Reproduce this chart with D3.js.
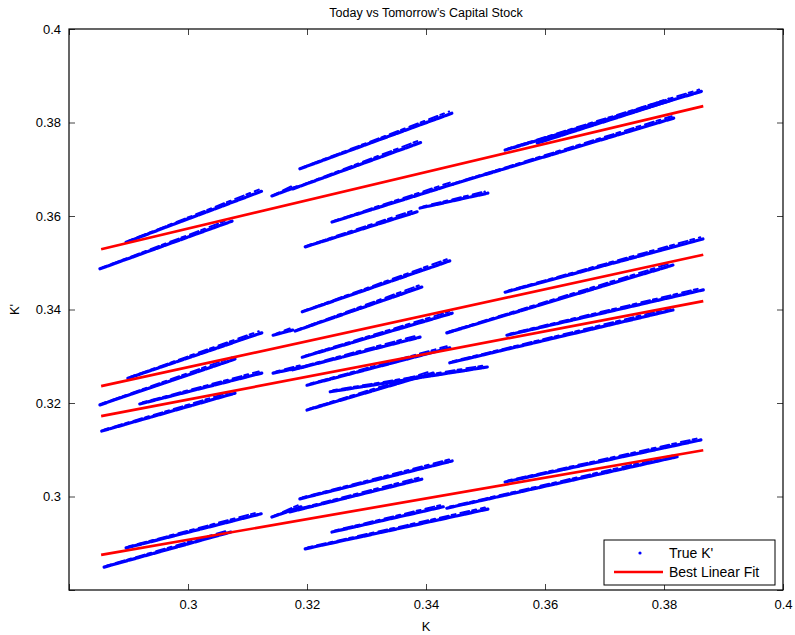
<!DOCTYPE html>
<html>
<head>
<meta charset="utf-8">
<script src="https://cdn.jsdelivr.net/npm/d3@7"></script>
<style>
  body { margin: 0; background: #fff; }
  text { font-family: "Liberation Sans", Arial, sans-serif; }
</style>
</head>
<body>
<div id="chart-container"></div>
<script>
// strands of the scatter, each one [K start, K' start, K end, K' end]
const topBand = [
  [0.2852, 0.3487, 0.3074, 0.3589],
  [0.2896, 0.3544, 0.3124, 0.3653],
  [0.3141, 0.3643, 0.3182, 0.3662],
  [0.3188, 0.3701, 0.3444, 0.3820],
  [0.3176, 0.3658, 0.3393, 0.3758],
  [0.3197, 0.3534, 0.3385, 0.3609],
  [0.3242, 0.3587, 0.3445, 0.3668],
  [0.3390, 0.3617, 0.3504, 0.3649],
  [0.3445, 0.3668, 0.3818, 0.3810],
  [0.3533, 0.3741, 0.3864, 0.3867],
  [0.3587, 0.3756, 0.3813, 0.3848]
];
const middleBand = [
  [0.2899, 0.3253, 0.3124, 0.3350],
  [0.3143, 0.3345, 0.3176, 0.3356],
  [0.2852, 0.3196, 0.3079, 0.3294],
  [0.2919, 0.3198, 0.3124, 0.3264],
  [0.3143, 0.3264, 0.3193, 0.3277],
  [0.2855, 0.3140, 0.3079, 0.3221],
  [0.3192, 0.3395, 0.3440, 0.3504],
  [0.3180, 0.3354, 0.3393, 0.3448],
  [0.3192, 0.3298, 0.3444, 0.3392],
  [0.3176, 0.3271, 0.3390, 0.3341],
  [0.3200, 0.3238, 0.3440, 0.3318],
  [0.3239, 0.3224, 0.3503, 0.3277],
  [0.3200, 0.3185, 0.3412, 0.3264],
  [0.3533, 0.3437, 0.3866, 0.3551],
  [0.3435, 0.3350, 0.3815, 0.3495],
  [0.3536, 0.3345, 0.3866, 0.3442],
  [0.3440, 0.3286, 0.3815, 0.3399]
];
const bottomBand = [
  [0.2896, 0.2890, 0.3123, 0.2963],
  [0.2859, 0.2849, 0.3072, 0.2924],
  [0.3141, 0.2956, 0.3190, 0.2978],
  [0.3188, 0.2995, 0.3444, 0.3076],
  [0.3171, 0.2967, 0.3393, 0.3037],
  [0.3242, 0.2924, 0.3429, 0.2978],
  [0.3197, 0.2888, 0.3504, 0.2973],
  [0.3533, 0.3031, 0.3862, 0.3121],
  [0.3435, 0.2975, 0.3822, 0.3085]
];

// best linear fits: K' at the first and last K
const fitK = [0.2854, 0.3866];
const fitLines = [
  [0.3529, 0.3835],
  [0.3236, 0.3517],
  [0.3172, 0.3418],
  [0.2875, 0.3099]
];

const xTicks = [0.28, 0.3, 0.32, 0.34, 0.36, 0.38, 0.4];
const yTicks = [0.28, 0.3, 0.32, 0.34, 0.36, 0.38, 0.4];
const legendLabels = ["True K'", "Best Linear Fit"];

const svgWidth = 795;
const svgHeight = 635;
const margin = { top: 29, right: 12, bottom: 45, left: 69 };

const svg = d3
  .select("#chart-container")
  .append("svg")
  .attr("width", svgWidth)
  .attr("height", svgHeight);

const x = d3.scaleLinear().domain([0.28, 0.4]).range([margin.left, svgWidth - margin.right]);
const y = d3.scaleLinear().domain([0.28, 0.4]).range([svgHeight - margin.bottom, margin.top]);

const fmt = (d) => (d === 0.28 ? "" : String(+d.toFixed(2)));

// blue strands, drawn as a beaded core plus a thin fuzzy edge
const strands = topBand.concat(middleBand, bottomBand);
const strandG = svg.append("g");
strandG
  .selectAll(".core")
  .data(strands)
  .enter()
  .append("line")
  .attr("class", "core")
  .attr("x1", (d) => x(d[0]))
  .attr("y1", (d) => y(d[1]))
  .attr("x2", (d) => x(d[2]))
  .attr("y2", (d) => y(d[3]))
  .attr("stroke", "#0000ff")
  .attr("stroke-width", 3.2)
  .attr("stroke-linecap", "round")
  .attr("stroke-dasharray", "7 1.6");
strandG
  .selectAll(".edge")
  .data(strands)
  .enter()
  .append("line")
  .attr("class", "edge")
  .attr("x1", (d) => x(d[0]) + 3)
  .attr("y1", (d) => y(d[1]) - 1.6)
  .attr("x2", (d) => x(d[2]) - 3)
  .attr("y2", (d) => y(d[3]) - 1.6)
  .attr("stroke", "#0000ff")
  .attr("stroke-width", 2)
  .attr("stroke-linecap", "round")
  .attr("stroke-dasharray", "4 5 9 3");

// red fits
svg
  .append("g")
  .selectAll("line")
  .data(fitLines)
  .enter()
  .append("line")
  .attr("x1", x(fitK[0]))
  .attr("y1", (d) => y(d[0]))
  .attr("x2", x(fitK[1]))
  .attr("y2", (d) => y(d[1]))
  .attr("stroke", "#ff0000")
  .attr("stroke-width", 2.7);

// axes, matlab style: ticks inward on all four sides
const tickLen = 6;
const bottomAxis = d3.axisBottom(x).tickValues(xTicks).tickSize(-tickLen).tickPadding(10).tickFormat(fmt);
const topAxis = d3.axisTop(x).tickValues(xTicks).tickSize(-tickLen).tickFormat("");
const leftAxis = d3.axisLeft(y).tickValues(yTicks).tickSize(-tickLen).tickPadding(8).tickFormat(fmt);
const rightAxis = d3.axisRight(y).tickValues(yTicks).tickSize(-tickLen).tickFormat("");

function styleAxis(g) {
  g.select(".domain").remove();
  g.selectAll(".tick line").attr("stroke", "#444");
  g.selectAll("text").attr("font-size", 13).attr("fill", "#000");
}

svg.append("g").attr("transform", `translate(0,${y(0.28)})`).call(bottomAxis).call(styleAxis);
svg.append("g").attr("transform", `translate(0,${y(0.4)})`).call(topAxis).call(styleAxis);
svg.append("g").attr("transform", `translate(${x(0.28)},0)`).call(leftAxis).call(styleAxis);
svg.append("g").attr("transform", `translate(${x(0.4)},0)`).call(rightAxis).call(styleAxis);

svg
  .append("rect")
  .attr("x", x(0.28))
  .attr("y", y(0.4))
  .attr("width", x(0.4) - x(0.28))
  .attr("height", y(0.28) - y(0.4))
  .attr("fill", "none")
  .attr("stroke", "#000")
  .attr("stroke-width", 1.2);

// labels
svg
  .append("text")
  .attr("x", (x(0.28) + x(0.4)) / 2)
  .attr("y", 17)
  .attr("text-anchor", "middle")
  .attr("font-size", 12.5)
  .text("Today vs Tomorrow\u2019s Capital Stock");

svg
  .append("text")
  .attr("x", (x(0.28) + x(0.4)) / 2)
  .attr("y", 631)
  .attr("text-anchor", "middle")
  .attr("font-size", 13)
  .text("K");

svg
  .append("text")
  .attr("transform", `translate(19,${(y(0.28) + y(0.4)) / 2}) rotate(-90)`)
  .attr("text-anchor", "middle")
  .attr("font-size", 13)
  .text("K'");

// legend
const legend = svg.append("g").attr("transform", "translate(604,540)");
legend
  .append("rect")
  .attr("width", 171)
  .attr("height", 45)
  .attr("fill", "#fff")
  .attr("stroke", "#000")
  .attr("stroke-width", 1);
legend
  .append("circle")
  .attr("cx", 36)
  .attr("cy", 13)
  .attr("r", 1.6)
  .attr("fill", "#0000ff");
legend
  .append("line")
  .attr("x1", 10)
  .attr("x2", 59)
  .attr("y1", 32)
  .attr("y2", 32)
  .attr("stroke", "#ff0000")
  .attr("stroke-width", 2.7);
legend
  .selectAll(".legend-text")
  .data(legendLabels)
  .enter()
  .append("text")
  .attr("class", "legend-text")
  .attr("x", 65)
  .attr("y", (d, i) => 13 + i * 19)
  .attr("dominant-baseline", "central")
  .attr("font-size", 14)
  .text((d) => d);
</script>
</body>
</html>
